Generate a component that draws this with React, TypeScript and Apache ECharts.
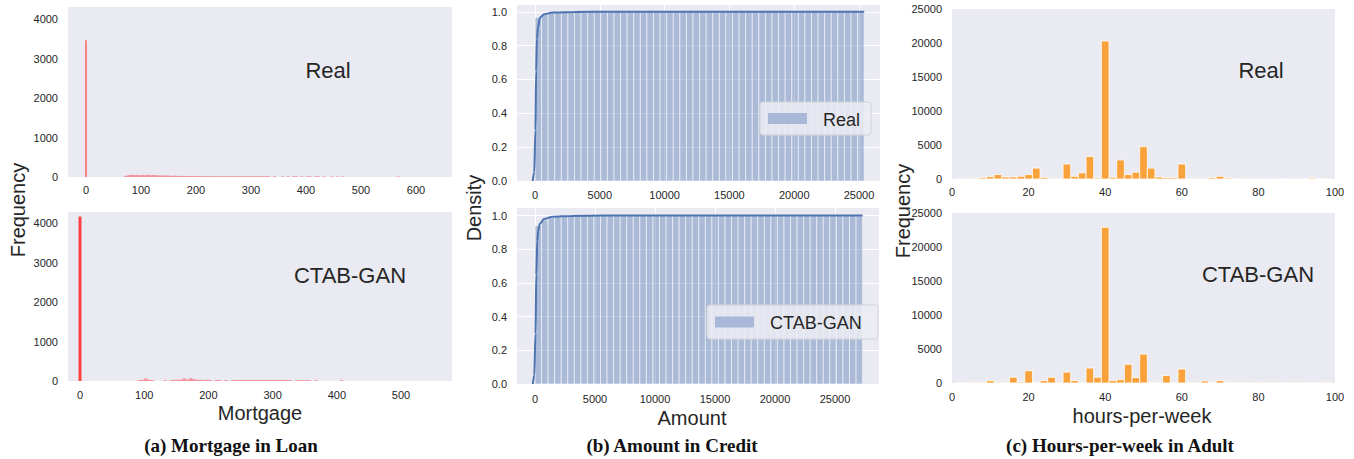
import React, { useEffect, useRef } from "react";
import * as echarts from "echarts";

// ---------- tick labels ----------
const mortgageTicksReal = [0, 100, 200, 300, 400, 500, 600];
const mortgageTicksGan = [0, 100, 200, 300, 400, 500];
const mortgageFreqTicks = [0, 1000, 2000, 3000, 4000];
const amountTicks = [0, 5000, 10000, 15000, 20000, 25000];
const densityTicks = [0, 0.2, 0.4, 0.6, 0.8, 1.0];
const hoursTicks = [0, 20, 40, 60, 80, 100];
const hoursFreqTicks = [0, 5000, 10000, 15000, 20000, 25000];

// ---------- (a) Mortgage in Loan ----------
const mortgageZeroBinReal = [-1.2, 1.2];
const mortgageZeroCountReal = 3470;
const mortgageZeroBinGan = [-2.3, 2.3];
const mortgageZeroCountGan = 4170;
const mortgageBinWidth = 5;
const mortgageRealStart = 70;
const mortgageRealCounts = [
  30, 45, 55, 50, 55, 45, 50, 45, 55, 45, 50, 45, 40, 40, 35, 40, 35, 30, 35, 25,
  30, 25, 30, 22, 25, 22, 30, 22, 22, 22, 20, 22, 20, 20, 20, 20, 20, 20, 20, 20,
  20, 20, 20, 20, 20, 20, 20, 20, 20, 20, 20, 20, 20, 0, 20, 0, 0, 18, 0, 18,
  0, 18, 18, 0, 18, 0, 18, 18, 0, 18, 18, 0, 18, 0, 0, 18, 0, 15, 0, 15,
  0, 0, 0, 0, 0, 0, 0, 0, 0, 0, 0, 0, 0, 0, 0, 0, 0, 0, 0, 15,
];
const mortgageGanStart = 90;
const mortgageGanCounts = [
  25, 30, 65, 30, 25, 0, 0, 0, 20, 0, 25, 30, 30, 35, 65, 35, 70, 45, 30, 30,
  25, 30, 25, 0, 25, 25, 0, 25, 0, 20, 25, 25, 25, 25, 25, 25, 25, 25, 25, 25,
  25, 25, 25, 25, 25, 25, 25, 20, 0, 20, 20, 20, 20, 20, 0, 20, 0, 0, 0, 0,
  0, 0, 0, 20,
];

// ---------- (b) Amount in Credit ----------
const amountMaxReal = 25400;
const amountMaxGan = 27300;
const amountBarsReal = [
  0.966, 0.99, 0.995, 0.997, 0.998, 0.999, 0.999, 0.999, 1, 1,
  1, 1, 1, 1, 1, 1, 1, 1, 1, 1,
  1, 1, 1, 1, 1, 1, 1, 1, 1, 1,
  1, 1, 1, 1, 1, 1, 1, 1, 1, 1,
  1, 1, 1, 1, 1, 1, 1, 1, 1, 1,
];
const amountBarsGan = [
  0.94, 0.974, 0.988, 0.994, 0.996, 0.998, 0.998, 0.999, 0.999, 0.999,
  1, 1, 1, 1, 1, 1, 1, 1, 1, 1,
  1, 1, 1, 1, 1, 1, 1, 1, 1, 1,
  1, 1, 1, 1, 1, 1, 1, 1, 1, 1,
  1, 1, 1, 1, 1, 1, 1, 1, 1, 1,
];
const amountCdfRealX = [-180, -60, 30, 90, 150, 230, 385, 715, 1360, 3000, 6000, 25400];
const amountCdfRealY = [0, 0.05, 0.3, 0.65, 0.84, 0.91, 0.966, 0.986, 0.995, 0.999, 1.0, 1.0];
const amountCdfGanX = [-180, -60, 40, 110, 190, 270, 390, 750, 1450, 3000, 6000, 27300];
const amountCdfGanY = [0, 0.05, 0.3, 0.65, 0.85, 0.91, 0.95, 0.979, 0.993, 0.998, 1.0, 1.0];

// ---------- (c) Hours-per-week in Adult ----------
const hoursBinStart = 1;
const hoursBinWidth = 2;
const hoursReal = [
  20, 30, 40, 200, 350, 650, 300, 300, 400, 650,
  1600, 250, 40, 40, 2200, 400, 900, 3300, 150, 20300,
  250, 2800, 650, 1000, 4750, 1600, 300, 200, 200, 2200,
  30, 40, 30, 200, 400, 150, 20, 40, 20, 30,
  10, 30, 10, 10, 30, 10, 150, 10, 80,
];
const hoursGan = [
  10, 20, 100, 100, 350, 100, 20, 850, 150, 1800,
  20, 350, 850, 100, 1600, 350, 20, 2200, 850, 22900,
  350, 500, 2750, 800, 4250, 100, 20, 1100, 20, 2050,
  50, 30, 300, 20, 350, 30, 20, 50, 20, 100,
  20, 40, 10, 20, 40, 20, 10, 20, 100,
];

const FONT = "'Liberation Sans', Arial, Helvetica, sans-serif";
const SERIF = "'Liberation Serif', 'DejaVu Serif', serif";
const BG = "#EAEAF2";
const TXT = "#262626";

function binsFrom(start: number, width: number, counts: number[]) {
  return counts.map((c, i) => [start + i * width, start + (i + 1) * width, c]);
}

const histRender = (fill: string, stroke: string, lw: number) => (params: any, api: any) => {
  const a = api.coord([api.value(0), api.value(2)]);
  const b = api.coord([api.value(1), 0]);
  return {
    type: "rect",
    shape: { x: a[0], y: a[1], width: b[0] - a[0], height: b[1] - a[1] },
    style: { fill, stroke, lineWidth: lw },
  };
};

const plainFmt = (v: number) => String(v);

function xAxis(gi: number, min: number, max: number, ticks: number[], margin: number, grid: boolean) {
  return {
    type: "value",
    gridIndex: gi,
    min,
    max,
    axisLine: { show: false },
    axisTick: { show: false, customValues: ticks },
    axisLabel: { color: TXT, fontSize: 11, fontFamily: FONT, margin, customValues: ticks, formatter: plainFmt },
    splitLine: { show: grid, lineStyle: { color: "#FFFFFF", width: 1 } },
  };
}
function yAxis(gi: number, min: number, max: number, ticks: number[], grid: boolean, fmt?: (v: number) => string) {
  return {
    type: "value",
    gridIndex: gi,
    min,
    max,
    axisLine: { show: false },
    axisTick: { show: false, customValues: ticks },
    axisLabel: {
      color: TXT,
      fontSize: 11,
      fontFamily: FONT,
      margin: 10,
      customValues: ticks,
      formatter: fmt || plainFmt,
    },
    splitLine: { show: grid, lineStyle: { color: "#FFFFFF", width: 1 } },
  };
}

function histSeries(xi: number, data: number[][], fill: string, stroke: string, lw: number, z = 2) {
  return {
    type: "custom",
    xAxisIndex: xi,
    yAxisIndex: xi,
    renderItem: histRender(fill, stroke, lw),
    encode: { x: [0, 1], y: 2 },
    data,
    clip: true,
    silent: true,
    z,
  };
}

function text(x: number, y: number, t: string, size: number, extra: any = {}) {
  return {
    type: "text",
    x,
    y,
    ...extra,
    style: {
      text: t,
      fontSize: size,
      fontFamily: FONT,
      fill: TXT,
      align: "center",
      verticalAlign: "middle",
      ...(extra.style || {}),
    },
  };
}

function legendBox(x: number, y: number, w: number, h: number, label: string) {
  return {
    type: "group",
    children: [
      {
        type: "rect",
        shape: { x, y, width: w, height: h, r: 3 },
        style: { fill: "rgba(236,236,243,0.88)", stroke: "#D2D2DA", lineWidth: 1 },
        z: 10,
      },
      {
        type: "rect",
        shape: { x: x + 8, y: y + h / 2 - 5.5, width: 39, height: 11 },
        style: { fill: "#A9B8D8" },
        z: 11,
      },
      {
        type: "text",
        x: x + 63,
        y: y + h / 2 + 1,
        style: { text: label, fontSize: 18, fontFamily: FONT, fill: TXT, align: "left", verticalAlign: "middle" },
        z: 11,
      },
    ],
  };
}

export default function App() {
  const ref = useRef<HTMLDivElement>(null);
  useEffect(() => {
    if (!ref.current) return;
    const chart = echarts.init(ref.current, null, { renderer: "svg" });

    const realBinW = amountMaxReal / amountBarsReal.length;
    const ganBinW = amountMaxGan / amountBarsGan.length;
    const amountRealData = binsFrom(0, realBinW, amountBarsReal);
    const amountGanData = binsFrom(0, ganBinW, amountBarsGan);

    const grids = [
      { left: 68, top: 7, width: 384, height: 170 },
      { left: 68, top: 212, width: 384, height: 169 },
      { left: 517, top: 5, width: 363, height: 176 },
      { left: 517, top: 208, width: 362, height: 176 },
      { left: 952, top: 9, width: 383, height: 170 },
      { left: 952, top: 213, width: 383, height: 170 },
    ].map((g) => ({ ...g, show: true, backgroundColor: BG, borderWidth: 0, containLabel: false }));

    const densFmt = (v: number) => v.toFixed(1);
    const capStyle = { style: { fontFamily: SERIF, fontWeight: "bold", fill: "#111" } };

    const option: any = {
      animation: false,
      grid: grids,
      xAxis: [
        xAxis(0, -32.7, 665.5, mortgageTicksReal, 7, false),
        xAxis(1, -18.7, 579.4, mortgageTicksGan, 8, false),
        xAxis(2, -1389, 26620, amountTicks, 8, true),
        xAxis(3, -1500, 28667, amountTicks, 9, true),
        xAxis(4, 0, 100, hoursTicks, 7, false),
        xAxis(5, 0, 100, hoursTicks, 8, false),
      ],
      yAxis: [
        yAxis(0, 0, 4315, mortgageFreqTicks, false),
        yAxis(1, 0, 4287, mortgageFreqTicks, false),
        yAxis(2, 0, 1.04, densityTicks, true, densFmt),
        yAxis(3, 0, 1.045, densityTicks, true, densFmt),
        yAxis(4, 0, 25000, hoursFreqTicks, false),
        yAxis(5, 0, 25000, hoursFreqTicks, false),
      ],
      series: [
        histSeries(0, binsFrom(mortgageRealStart, mortgageBinWidth, mortgageRealCounts), "rgba(255,70,80,0.55)", "none", 0),
        histSeries(0, [[mortgageZeroBinReal[0], mortgageZeroBinReal[1], mortgageZeroCountReal]], "#FF4A4A", "none", 0, 3),
        histSeries(1, binsFrom(mortgageGanStart, mortgageBinWidth, mortgageGanCounts), "rgba(255,70,80,0.55)", "none", 0),
        histSeries(1, [[mortgageZeroBinGan[0], mortgageZeroBinGan[1], mortgageZeroCountGan]], "#FF4040", "none", 0, 3),
        { ...histSeries(2, amountRealData, "rgba(76,114,176,0.4)", "rgba(255,255,255,0.55)", 1), name: "Real" },
        {
          type: "line",
          xAxisIndex: 2,
          yAxisIndex: 2,
          data: amountCdfRealX.map((x, i) => [x, amountCdfRealY[i]]),
          showSymbol: false,
          smooth: 0.3,
          smoothMonotone: "x",
          lineStyle: { color: "#4C72B0", width: 2 },
          silent: true,
          z: 5,
        },
        { ...histSeries(3, amountGanData, "rgba(76,114,176,0.4)", "rgba(255,255,255,0.55)", 1), name: "CTAB-GAN" },
        {
          type: "line",
          xAxisIndex: 3,
          yAxisIndex: 3,
          data: amountCdfGanX.map((x, i) => [x, amountCdfGanY[i]]),
          showSymbol: false,
          smooth: 0.3,
          smoothMonotone: "x",
          lineStyle: { color: "#4C72B0", width: 2 },
          silent: true,
          z: 5,
        },
        histSeries(4, binsFrom(hoursBinStart, hoursBinWidth, hoursReal), "#F9A23B", "#FFFFFF", 0.8),
        histSeries(5, binsFrom(hoursBinStart, hoursBinWidth, hoursGan), "#F9A23B", "#FFFFFF", 0.8),
      ],
      graphic: [
        text(328, 70, "Real", 22),
        text(350, 275, "CTAB-GAN", 22),
        text(1261, 70, "Real", 22),
        text(1258, 274, "CTAB-GAN", 22),
        text(17.5, 210, "Frequency", 20, { rotation: Math.PI / 2 }),
        text(474, 208, "Density", 20, { rotation: Math.PI / 2 }),
        text(902.5, 211, "Frequency", 20, { rotation: Math.PI / 2 }),
        text(260, 413, "Mortgage", 20),
        text(692, 417.5, "Amount", 20),
        text(1142, 416, "hours-per-week", 20),
        text(231, 445, "(a) Mortgage in Loan", 19, capStyle),
        text(672, 445, "(b) Amount in Credit", 19, capStyle),
        text(1120, 445, "(c) Hours-per-week in Adult", 19, capStyle),
        legendBox(760, 102, 111, 33, "Real"),
        legendBox(707, 305, 171, 34, "CTAB-GAN"),
      ],
    };
    chart.setOption(option);
    return () => chart.dispose();
  }, []);
  return (
    <div
      ref={ref}
      style={{ position: "absolute", left: 0, top: 0, width: 1354, height: 459, background: "#FFFFFF" }}
    />
  );
}
